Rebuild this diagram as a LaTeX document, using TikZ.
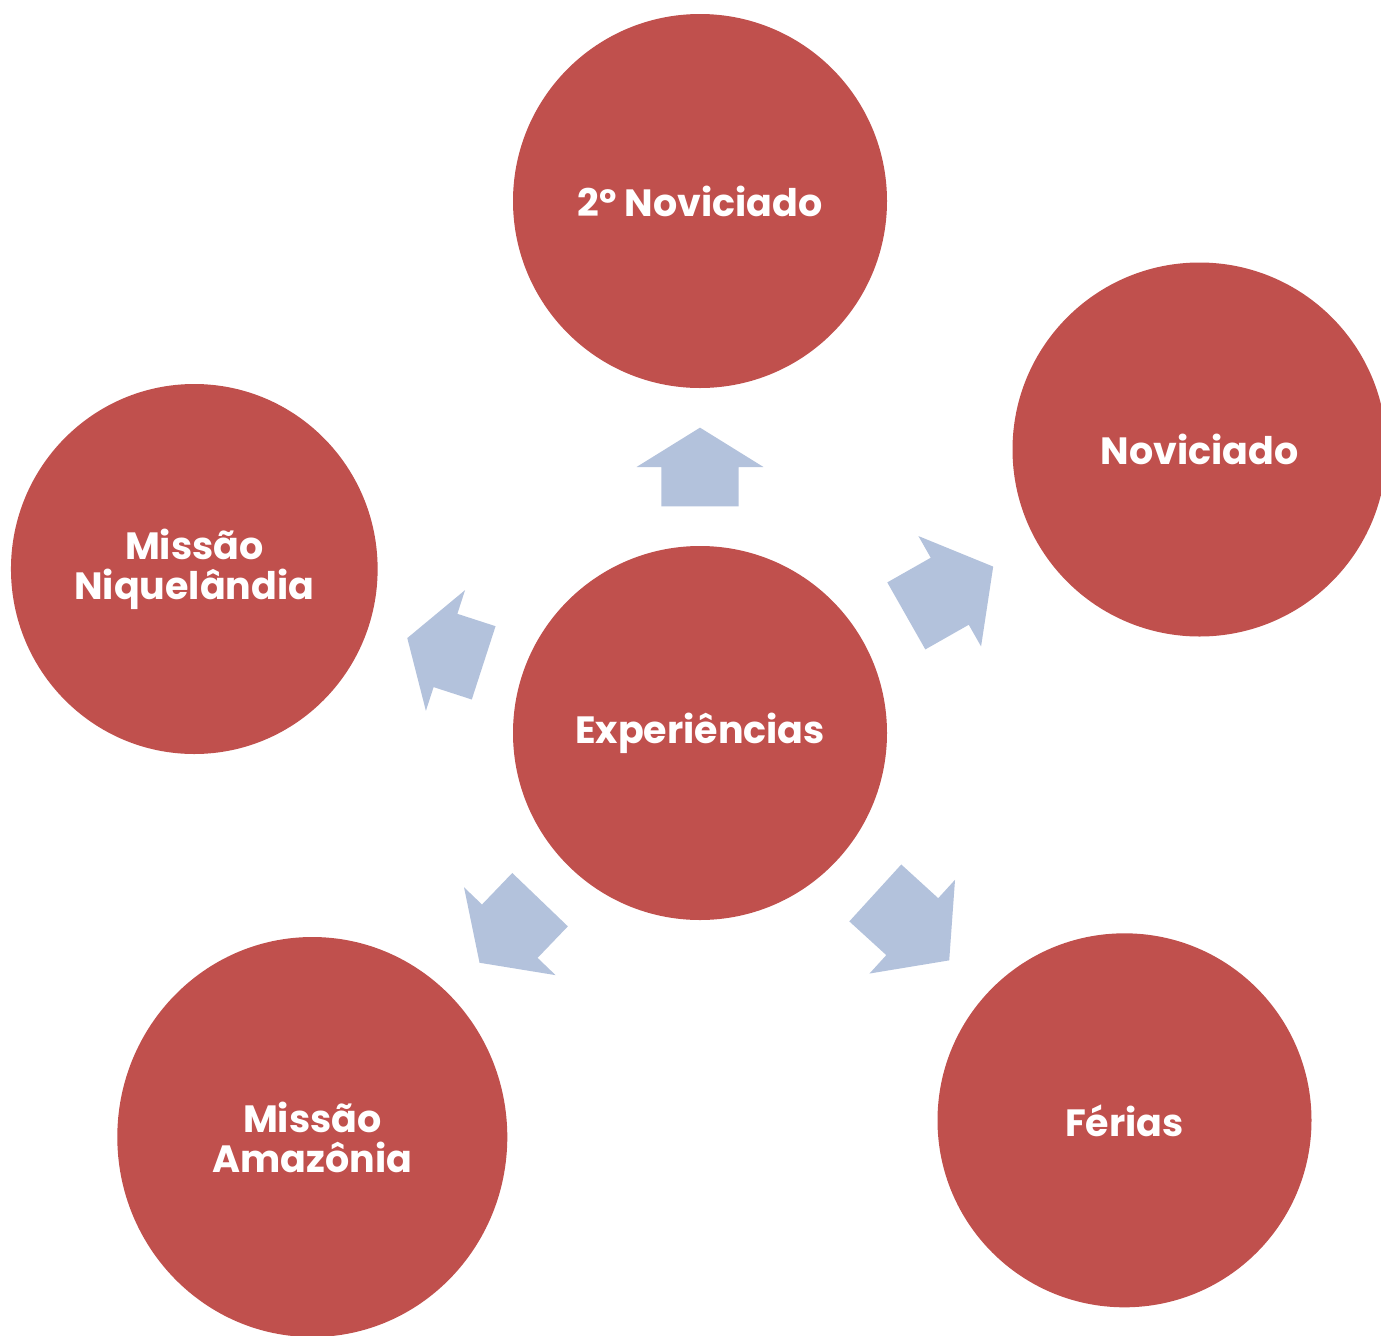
\documentclass[tikz,border=0pt]{standalone}
\usepackage{fontspec}
\usepackage{xcolor}
\usepackage{tikz}
\usetikzlibrary{calc,shapes.geometric}
\newfontfamily\twfont{Poppins}
\definecolor{circred}{RGB}{192,80,77}
\definecolor{arrowblue}{RGB}{179,194,220}
\newcommand{\radarrow}[2]{%
  \path (#1) -- (#2) coordinate[pos=.25] (tl) coordinate[pos=.5] (hb) coordinate[pos=.75] (tp);
  \fill[arrowblue] ($(tl)!28.9pt!90:(tp)$) -- ($(hb)!28.9pt!90:(tp)$) -- ($(hb)!47.6pt!90:(tp)$) -- (tp)
    -- ($(hb)!47.6pt!-90:(tp)$) -- ($(hb)!28.9pt!-90:(tp)$) -- ($(tl)!28.9pt!-90:(tp)$) -- cycle;}

\begin{document}
\begin{tikzpicture}[x=0.75pt,y=-0.75pt,
  font=\twfont\bfseries\fontsize{28.5}{30}\selectfont,
  bubble/.style={circle,fill=circred,text=white,align=center,inner sep=0pt,minimum size=280.5pt},
  oval/.style={ellipse,fill=circred,text=white,align=center,inner sep=0pt}]
  \useasboundingbox (0,0) rectangle (1381,1335);
  \node[bubble] (exp) at (700,733) {Experiências};
  \node[bubble] (nov2) at (700,201) {2º Noviciado};
  \node[bubble] (nov) at (1199.5,449.5) {Noviciado};
  \node[bubble] (fer) at (1124.5,1120.3) {Férias};
  \node[oval,minimum width=292.5pt,minimum height=300pt] (amaz) at (312.3,1137) {Missão\\Amazônia};
  \node[oval,minimum width=275pt,minimum height=277.5pt] (niq) at (194.3,569) {Missão\\Niquelândia};
  \foreach \t in {nov2,nov,fer,amaz,niq} \radarrow{exp}{\t};
\end{tikzpicture}
\end{document}
